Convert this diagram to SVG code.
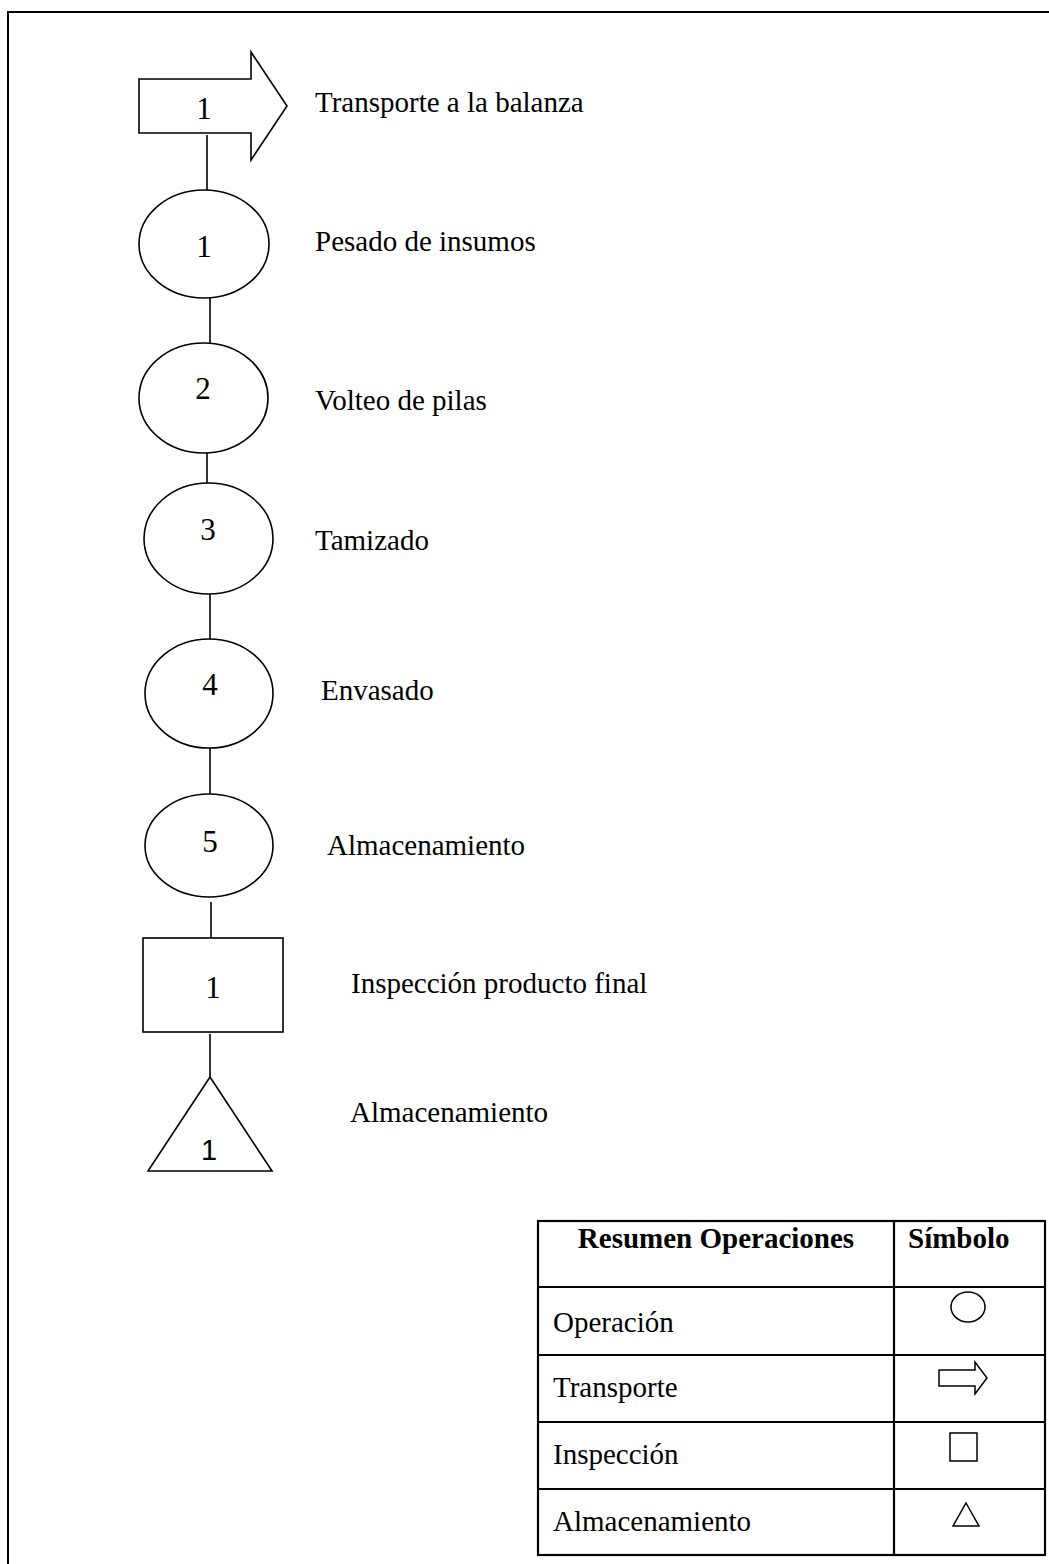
<svg xmlns="http://www.w3.org/2000/svg" width="1049" height="1564" viewBox="0 0 1049 1564">
<style>
.s{fill:#fff;stroke:#000;stroke-width:1.6}
.c{stroke:#000;stroke-width:1.6;fill:none}
.t{font-family:"Liberation Serif","Times New Roman",serif;font-size:29px;fill:#000}
.n{font-family:"Liberation Serif","Times New Roman",serif;font-size:31px;fill:#000;text-anchor:middle}
.b{font-family:"Liberation Serif","Times New Roman",serif;font-size:29px;font-weight:bold;fill:#000}
.tb{stroke:#000;stroke-width:2.2;fill:none}
.sym{fill:none;stroke:#000;stroke-width:1.5}
</style>
<rect width="1049" height="1564" fill="#fff"/>
<rect x="8" y="12" width="1100" height="1600" fill="none" stroke="#000" stroke-width="2"/>
<g id="connectors">
<line class="c" x1="207" y1="135" x2="207" y2="190"/>
<line class="c" x1="210" y1="298" x2="210" y2="343"/>
<line class="c" x1="207" y1="453" x2="207" y2="483"/>
<line class="c" x1="210" y1="594" x2="210" y2="639"/>
<line class="c" x1="210" y1="748" x2="210" y2="794"/>
<line class="c" x1="211" y1="902" x2="211" y2="938"/>
<line class="c" x1="210" y1="1034" x2="210" y2="1077"/>
</g>
<g id="transporte1">
<polygon class="s" points="139,79 251,79 251,52 287,106 251,160 251,133 139,133"/>
<text class="n" x="204" y="119">1</text>
<text class="t" x="315" y="112">Transporte a la balanza</text>
</g>
<g id="op1">
<ellipse class="s" cx="204" cy="244" rx="65" ry="54"/>
<text class="n" x="204" y="257">1</text>
<text class="t" x="315" y="251">Pesado de insumos</text>
</g>
<g id="op2">
<ellipse class="s" cx="203.5" cy="398" rx="64.5" ry="55"/>
<text class="n" x="203" y="399">2</text>
<text class="t" x="315" y="410">Volteo de pilas</text>
</g>
<g id="op3">
<ellipse class="s" cx="208.5" cy="538.5" rx="64.5" ry="55.5"/>
<text class="n" x="208" y="540">3</text>
<text class="t" x="315" y="550">Tamizado</text>
</g>
<g id="op4">
<ellipse class="s" cx="209" cy="693.5" rx="64" ry="54.5"/>
<text class="n" x="210" y="695">4</text>
<text class="t" x="321" y="700">Envasado</text>
</g>
<g id="op5">
<ellipse class="s" cx="209" cy="845.5" rx="64" ry="51.5"/>
<text class="n" x="210" y="852">5</text>
<text class="t" x="327" y="855">Almacenamiento</text>
</g>
<g id="insp1">
<rect class="s" x="143" y="938" width="140" height="94"/>
<text class="n" x="213" y="998">1</text>
<text class="t" x="351" y="993">Inspección producto final</text>
</g>
<g id="alm1">
<polygon class="s" points="210,1077 272,1171 148,1171"/>
<text x="209" y="1160" text-anchor="middle" font-family="Liberation Sans, Arial, sans-serif" font-size="29" fill="#000">1</text>
<text class="t" x="350" y="1122">Almacenamiento</text>
</g>
<g id="table">
<rect class="tb" x="538" y="1221" width="507" height="334"/>
<line class="tb" x1="894" y1="1221" x2="894" y2="1555"/>
<line class="tb" x1="538" y1="1287" x2="1045" y2="1287"/>
<line class="tb" x1="538" y1="1355" x2="1045" y2="1355"/>
<line class="tb" x1="538" y1="1422" x2="1045" y2="1422"/>
<line class="tb" x1="538" y1="1489" x2="1045" y2="1489"/>
<text class="b" x="716" y="1248" text-anchor="middle">Resumen Operaciones</text>
<text class="b" x="908" y="1248">Símbolo</text>
<text class="t" x="553" y="1332">Operación</text>
<text class="t" x="553" y="1397">Transporte</text>
<text class="t" x="553" y="1464">Inspección</text>
<text class="t" x="553" y="1531">Almacenamiento</text>
<ellipse class="sym" cx="968" cy="1307" rx="17" ry="15"/>
<polygon class="sym" points="939,1370 975,1370 975,1362 987,1378 975,1394 975,1386 939,1386"/>
<rect class="sym" x="950" y="1433" width="27" height="28"/>
<polygon class="sym" points="966,1503 979,1526 953,1526"/>
</g>
</svg>
